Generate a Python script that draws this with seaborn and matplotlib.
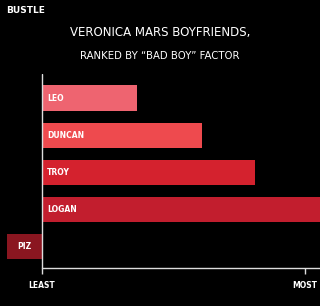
import matplotlib
matplotlib.use("Agg")
import matplotlib.pyplot as plt
import seaborn as sns
import pandas as pd

names = ["LEO", "DUNCAN", "TROY", "LOGAN", "PIZ"]
scores = [3.6, 6.1, 8.1, 11.0, -1.33]
colors = ["#ee6470", "#ee4a4e", "#d4222e", "#c21e2e", "#8a1620"]
tick_labels = ["LEAST", "MOST"]
tick_values = [0, 10]

df = pd.DataFrame({"name": names, "score": scores})

sns.set_theme(style="dark")
plt.rcParams["font.family"] = ["DejaVu Sans"]

fig = plt.figure(figsize=(3.2, 3.06), dpi=100, facecolor="black")
ax = fig.add_axes([0.0, (306 - 268) / 306, 1.0, (268 - 74) / 306])
ax.set_facecolor("black")

sns.barplot(data=df, x="score", y="name", hue="name", palette=colors,
            legend=False, width=0.68, ax=ax, orient="h", saturation=1,
            linewidth=0, edgecolor="none")

ax.set_xlim(-1.6, 10.57)
ax.set_ylim(4.58, -0.65)
ax.set_xlabel("")
ax.set_ylabel("")
ax.set_yticks([])
ax.set_xticks(tick_values)
ax.set_xticklabels(tick_labels, color="white", fontsize=5.5, fontweight="bold")
ax.tick_params(axis="x", bottom=True, colors="#dddddd", labelcolor="white",
               length=4, width=1, pad=5, direction="out")
ax.grid(False)
for s in ["top", "right", "left"]:
    ax.spines[s].set_visible(False)
ax.spines["bottom"].set_visible(True)
ax.spines["bottom"].set_color("#dddddd")
ax.spines["bottom"].set_linewidth(1)
ax.spines["bottom"].set_bounds(0, 10.57)
ax.axvline(0, color="#dddddd", lw=1, zorder=5)

for i, (n, v) in enumerate(zip(names, scores)):
    if v >= 0:
        ax.text(0.2, i, n, color="white", fontsize=5.5, fontweight="bold",
                va="center", ha="left", zorder=6)
    else:
        ax.text(v / 2, i, n, color="white", fontsize=5.5, fontweight="bold",
                va="center", ha="center", zorder=6)

fig.text(0.02, 0.965, "BUSTLE", color="white", fontsize=6.5, fontweight="bold",
         ha="left", va="center")
fig.text(0.5, 0.893, "VERONICA MARS BOYFRIENDS,", color="white", fontsize=8.5,
         ha="center", va="center")
fig.text(0.5, 0.818, "RANKED BY \u201cBAD BOY\u201d FACTOR", color="white", fontsize=7.3,
         ha="center", va="center")

fig.savefig("out.png", dpi=100, facecolor="black")
